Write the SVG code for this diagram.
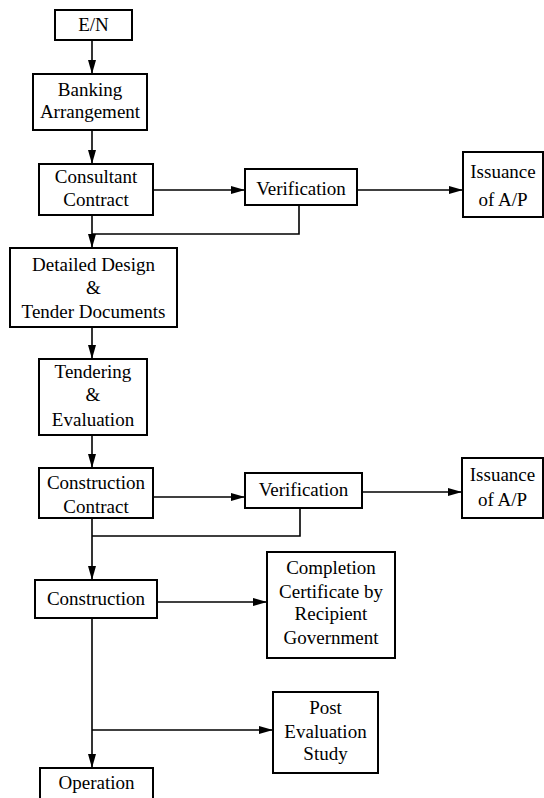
<svg xmlns="http://www.w3.org/2000/svg" width="544" height="798" viewBox="0 0 544 798">
<style>
.box{fill:#fff;stroke:#000;stroke-width:2}
.t{font-family:"Liberation Serif","Times New Roman",serif;font-size:19px;fill:#000;text-anchor:middle}
.c{fill:none;stroke:#000;stroke-width:1.6}
</style>
<defs>
<marker id="ah" markerUnits="userSpaceOnUse" markerWidth="14" markerHeight="8" refX="14" refY="4" orient="auto">
<path d="M0,0 L14,4 L0,8 z" fill="#000"/>
</marker>
</defs>
<g id="connectors">
<line class="c" x1="92" y1="40" x2="92" y2="74" marker-end="url(#ah)"/>
<line class="c" x1="92" y1="130" x2="92" y2="164" marker-end="url(#ah)"/>
<line class="c" x1="153" y1="190" x2="245" y2="190" marker-end="url(#ah)"/>
<line class="c" x1="357" y1="190" x2="463" y2="190" marker-end="url(#ah)"/>
<polyline class="c" points="299,205 299,234 92,234"/>
<line class="c" x1="92" y1="215" x2="92" y2="248" marker-end="url(#ah)"/>
<line class="c" x1="92" y1="327" x2="92" y2="359" marker-end="url(#ah)"/>
<line class="c" x1="92" y1="435" x2="92" y2="468" marker-end="url(#ah)"/>
<line class="c" x1="153" y1="497" x2="245" y2="497" marker-end="url(#ah)"/>
<line class="c" x1="362" y1="492" x2="462" y2="492" marker-end="url(#ah)"/>
<polyline class="c" points="300,508 300,536 92,536"/>
<line class="c" x1="92" y1="518" x2="92" y2="580" marker-end="url(#ah)"/>
<line class="c" x1="157" y1="602" x2="267" y2="602" marker-end="url(#ah)"/>
<line class="c" x1="92" y1="618" x2="92" y2="768" marker-end="url(#ah)"/>
<line class="c" x1="92" y1="730" x2="273" y2="730" marker-end="url(#ah)"/>
</g>
<g id="en"><rect class="box" x="55" y="10" width="77" height="30"/><text class="t" x="93.5" y="31">E/N</text></g>
<g id="banking"><rect class="box" x="33" y="74" width="114" height="56"/><text class="t" x="90" y="96">Banking</text><text class="t" x="90" y="118">Arrangement</text></g>
<g id="consultant"><rect class="box" x="39" y="164" width="114" height="51"/><text class="t" x="96" y="183">Consultant</text><text class="t" x="96" y="206">Contract</text></g>
<g id="verification1"><rect class="box" x="245" y="169" width="112" height="36"/><text class="t" x="301" y="195">Verification</text></g>
<g id="issuance1"><rect class="box" x="463" y="152" width="80" height="65"/><text class="t" x="503" y="178">Issuance</text><text class="t" x="503" y="206">of A/P</text></g>
<g id="detailed"><rect class="box" x="10" y="248" width="167" height="79"/><text class="t" x="93.5" y="271">Detailed Design</text><text class="t" x="93.5" y="294">&amp;</text><text class="t" x="93.5" y="318">Tender Documents</text></g>
<g id="tendering"><rect class="box" x="39" y="359" width="108" height="76"/><text class="t" x="93" y="378">Tendering</text><text class="t" x="93" y="401">&amp;</text><text class="t" x="93" y="426">Evaluation</text></g>
<g id="construction-contract"><rect class="box" x="39" y="468" width="114" height="50"/><text class="t" x="96" y="489">Construction</text><text class="t" x="96" y="513">Contract</text></g>
<g id="verification2"><rect class="box" x="245" y="473" width="117" height="35"/><text class="t" x="303.5" y="496">Verification</text></g>
<g id="issuance2"><rect class="box" x="462" y="458" width="81" height="60"/><text class="t" x="502.5" y="481">Issuance</text><text class="t" x="502.5" y="506">of A/P</text></g>
<g id="construction"><rect class="box" x="35" y="580" width="122" height="38"/><text class="t" x="96" y="605">Construction</text></g>
<g id="completion"><rect class="box" x="267" y="552" width="128" height="106"/><text class="t" x="331" y="574">Completion</text><text class="t" x="331" y="598">Certificate by</text><text class="t" x="331" y="620">Recipient</text><text class="t" x="331" y="644">Government</text></g>
<g id="post"><rect class="box" x="273" y="692" width="105" height="81"/><text class="t" x="325.5" y="714">Post</text><text class="t" x="325.5" y="738">Evaluation</text><text class="t" x="325.5" y="760">Study</text></g>
<g id="operation"><rect class="box" x="40" y="768" width="113" height="40"/><text class="t" x="96.5" y="789">Operation</text></g>
</svg>
